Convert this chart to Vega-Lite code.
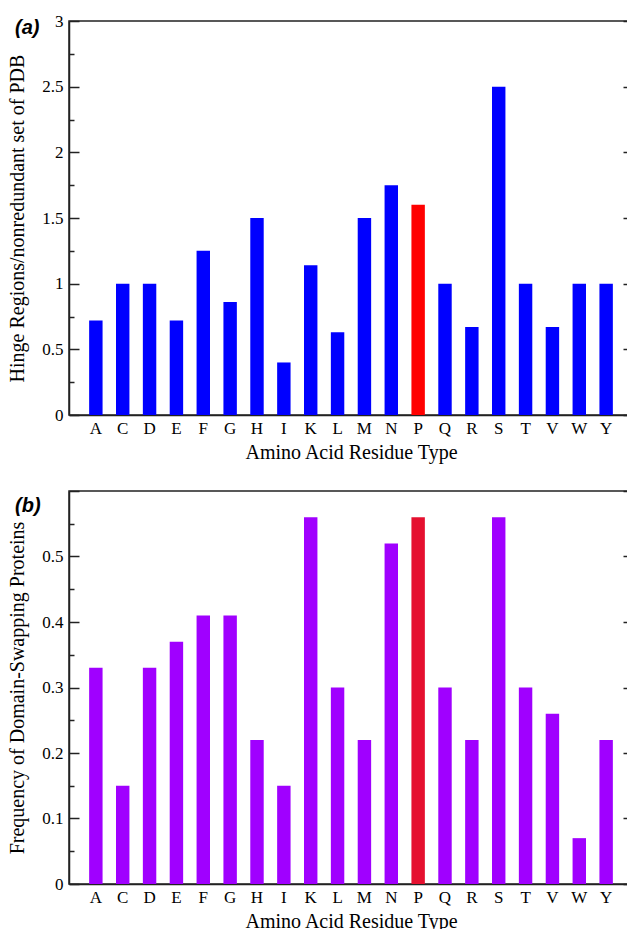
{
  "$schema": "https://vega.github.io/schema/vega-lite/v6.json",
  "background": "white",
  "padding": {"left": 7, "top": 11, "right": 0, "bottom": 0},
  "spacing": 26,
  "config": {
    "view": {"stroke": "#222222", "strokeWidth": 1.5},
    "axis": {
      "labelFont": "Liberation Serif", "titleFont": "Liberation Serif",
      "labelFontSize": 17, "titleFontSize": 20, "labelColor": "black", "titleColor": "black",
      "titleFontWeight": "normal", "domainColor": "#222222", "tickColor": "#222222",
      "domainWidth": 1.5, "tickWidth": 1.5, "grid": false
    },
    "title": {
      "font": "Liberation Sans", "fontSize": 20, "fontWeight": "bold", "fontStyle": "italic",
      "anchor": "start", "frame": "group", "offset": 0, "dx": -54, "dy": 30,
      "baseline": "alphabetic", "color": "black"
    }
  },
  "datasets": {
    "hinge": [
      {"residue": "A", "value": 0.72}, {"residue": "C", "value": 1.0}, {"residue": "D", "value": 1.0},
      {"residue": "E", "value": 0.72}, {"residue": "F", "value": 1.25}, {"residue": "G", "value": 0.86},
      {"residue": "H", "value": 1.5}, {"residue": "I", "value": 0.4}, {"residue": "K", "value": 1.14},
      {"residue": "L", "value": 0.63}, {"residue": "M", "value": 1.5}, {"residue": "N", "value": 1.75},
      {"residue": "P", "value": 1.6}, {"residue": "Q", "value": 1.0}, {"residue": "R", "value": 0.67},
      {"residue": "S", "value": 2.5}, {"residue": "T", "value": 1.0}, {"residue": "V", "value": 0.67},
      {"residue": "W", "value": 1.0}, {"residue": "Y", "value": 1.0}
    ],
    "swap": [
      {"residue": "A", "value": 0.33}, {"residue": "C", "value": 0.15}, {"residue": "D", "value": 0.33},
      {"residue": "E", "value": 0.37}, {"residue": "F", "value": 0.41}, {"residue": "G", "value": 0.41},
      {"residue": "H", "value": 0.22}, {"residue": "I", "value": 0.15}, {"residue": "K", "value": 0.56},
      {"residue": "L", "value": 0.3}, {"residue": "M", "value": 0.22}, {"residue": "N", "value": 0.52},
      {"residue": "P", "value": 0.56}, {"residue": "Q", "value": 0.3}, {"residue": "R", "value": 0.22},
      {"residue": "S", "value": 0.56}, {"residue": "T", "value": 0.3}, {"residue": "V", "value": 0.26},
      {"residue": "W", "value": 0.07}, {"residue": "Y", "value": 0.22}
    ]
  },
  "vconcat": [
    {
      "title": "(a)",
      "width": 564, "height": 394,
      "data": {"name": "hinge"},
      "encoding": {
        "x": {"field": "residue", "type": "nominal", "sort": null,
          "scale": {"paddingInner": 0.5, "paddingOuter": 0.75},
          "axis": {"title": "Amino Acid Residue Type", "labelAngle": 0, "ticks": false, "labelPadding": 5, "titlePadding": 6}}
      },
      "layer": [
        {
          "mark": {"type": "bar"},
          "encoding": {
            "y": {"field": "value", "type": "quantitative", "scale": {"domain": [0, 3], "nice": false},
              "axis": {"orient": "left", "title": "Hinge Regions/nonredundant set of PDB",
                "values": [0, 0.25, 0.5, 0.75, 1, 1.25, 1.5, 1.75, 2, 2.25, 2.5, 2.75, 3],
                "tickSize": {"condition": {"test": "abs(datum.value*2 - round(datum.value*2)) < 0.001", "value": -10}, "value": -5},
                "labelExpr": "abs(datum.value*2 - round(datum.value*2)) < 0.001 ? format(datum.value, '~g') : ''",
                "labelPadding": 16, "titlePadding": 14}},
            "color": {"condition": {"test": "datum.residue === 'P'", "value": "#ff0000"}, "value": "#0000ff"}
          }
        },
        {
          "mark": {"type": "bar", "opacity": 0},
          "encoding": {
            "y": {"field": "value", "type": "quantitative", "scale": {"domain": [0, 3], "nice": false},
              "axis": {"orient": "right", "title": null, "labels": false, "domain": false,
                "values": [0, 0.25, 0.5, 0.75, 1, 1.25, 1.5, 1.75, 2, 2.25, 2.5, 2.75, 3],
                "tickSize": {"condition": {"test": "abs(datum.value*2 - round(datum.value*2)) < 0.001", "value": -10}, "value": -5}}}
          }
        }
      ],
      "resolve": {"axis": {"y": "independent"}}
    },
    {
      "title": "(b)",
      "width": 564, "height": 393,
      "data": {"name": "swap"},
      "encoding": {
        "x": {"field": "residue", "type": "nominal", "sort": null,
          "scale": {"paddingInner": 0.5, "paddingOuter": 0.75},
          "axis": {"title": "Amino Acid Residue Type", "labelAngle": 0, "ticks": false, "labelPadding": 5, "titlePadding": 6}}
      },
      "layer": [
        {
          "mark": {"type": "bar"},
          "encoding": {
            "y": {"field": "value", "type": "quantitative", "scale": {"domain": [0, 0.6], "nice": false},
              "axis": {"orient": "left", "title": "Frequency of Domain-Swapping Proteins",
                "values": [0, 0.05, 0.1, 0.15, 0.2, 0.25, 0.3, 0.35, 0.4, 0.45, 0.5, 0.55, 0.6],
                "tickSize": {"condition": {"test": "abs(datum.value*10 - round(datum.value*10)) < 0.001", "value": -10}, "value": -5},
                "labelExpr": "abs(datum.value*10 - round(datum.value*10)) < 0.001 && datum.value < 0.55 ? format(datum.value, '~g') : ''",
                "labelPadding": 16, "titlePadding": 14}},
            "color": {"condition": {"test": "datum.residue === 'P'", "value": "#e5102f"}, "value": "#a000ff"}
          }
        },
        {
          "mark": {"type": "bar", "opacity": 0},
          "encoding": {
            "y": {"field": "value", "type": "quantitative", "scale": {"domain": [0, 0.6], "nice": false},
              "axis": {"orient": "right", "title": null, "labels": false, "domain": false,
                "values": [0, 0.05, 0.1, 0.15, 0.2, 0.25, 0.3, 0.35, 0.4, 0.45, 0.5, 0.55, 0.6],
                "tickSize": {"condition": {"test": "abs(datum.value*10 - round(datum.value*10)) < 0.001", "value": -10}, "value": -5}}}
          }
        }
      ],
      "resolve": {"axis": {"y": "independent"}}
    }
  ]
}
